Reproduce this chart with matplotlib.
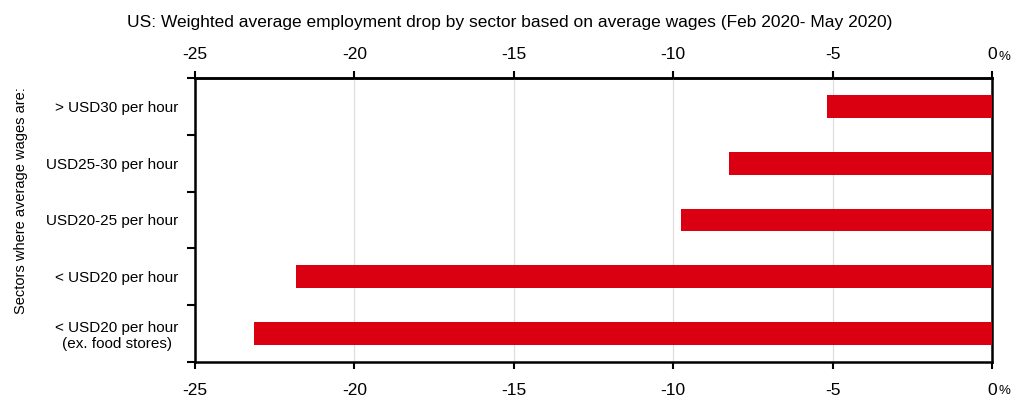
import numpy as np
import matplotlib.pyplot as plt
from matplotlib.ticker import FixedLocator, FixedFormatter

plt.rcParams['font.family'] = ['Liberation Sans', 'DejaVu Sans']

# employment change Feb-May 2020, % (weighted average by wage band)
categories = ['> USD30 per hour', 'USD25-30 per hour', 'USD20-25 per hour',
              '< USD20 per hour', '< USD20 per hour\n(ex. food stores)']
drop = [-5.18, -8.25, -9.76, -21.83, -23.15]
xticks = [-25, -20, -15, -10, -5, 0]
xlabels = ['-25', '-20', '-15', '-10', '-5', '0']

red = '#da0012'

fig = plt.figure(figsize=(10.13, 3.96), dpi=100)
ax = fig.add_axes([0.1925, 0.0859, 0.7868, 0.7171])

y = np.arange(len(categories))
ax.barh(y, drop, height=0.4, color=red, zorder=3)

ax.set_xlim(-25, 0)
ax.set_ylim(len(categories) - 0.5, -0.5)

ax.xaxis.set_major_locator(FixedLocator(xticks))
ax.xaxis.set_major_formatter(FixedFormatter(xlabels))
ax.tick_params(axis='x', direction='out', length=5, width=1.5,
               labelsize=12.5, pad=10)
ax.grid(axis='x', color='#dedede', linewidth=0.9, zorder=0)

# same scale repeated along the top
top = ax.secondary_xaxis('top')
top.xaxis.set_major_locator(FixedLocator(xticks))
top.xaxis.set_major_formatter(FixedFormatter(xlabels))
top.tick_params(axis='x', direction='out', length=5, width=1.5,
                labelsize=12.5, pad=6.5)
top.spines['top'].set_linewidth(1.8)

# category labels at centres, tick marks on the band boundaries
ax.set_yticks(y)
ax.set_yticklabels(categories, fontsize=11)
ax.tick_params(axis='y', which='major', length=0, pad=12)
ax.set_yticks(np.arange(len(categories) + 1) - 0.5, minor=True)
ax.tick_params(axis='y', which='minor', length=6, width=1.5, direction='out')
ax.get_yticklabels()[-1].set_multialignment('center')

for s in ax.spines.values():
    s.set_linewidth(1.8)
    s.set_color('black')

ax.set_ylabel('Sectors where average wages are:', fontsize=10.5)
ax.yaxis.set_label_coords(-0.21, 0.567)

# small % sign after the zero labels
ax.annotate('%', xy=(0, 1), xycoords=('data', 'axes fraction'),
            xytext=(4.5, 13), textcoords='offset points',
            fontsize=9.5, ha='left', va='baseline')
ax.annotate('%', xy=(0, 0), xycoords=('data', 'axes fraction'),
            xytext=(4.5, -23), textcoords='offset points',
            fontsize=9.5, ha='left', va='baseline')

fig.text(0.503, 0.943,
         'US: Weighted average employment drop by sector based on average wages (Feb 2020- May 2020)',
         ha='center', va='center', fontsize=12.5)

fig.savefig('out.png', dpi=100)
